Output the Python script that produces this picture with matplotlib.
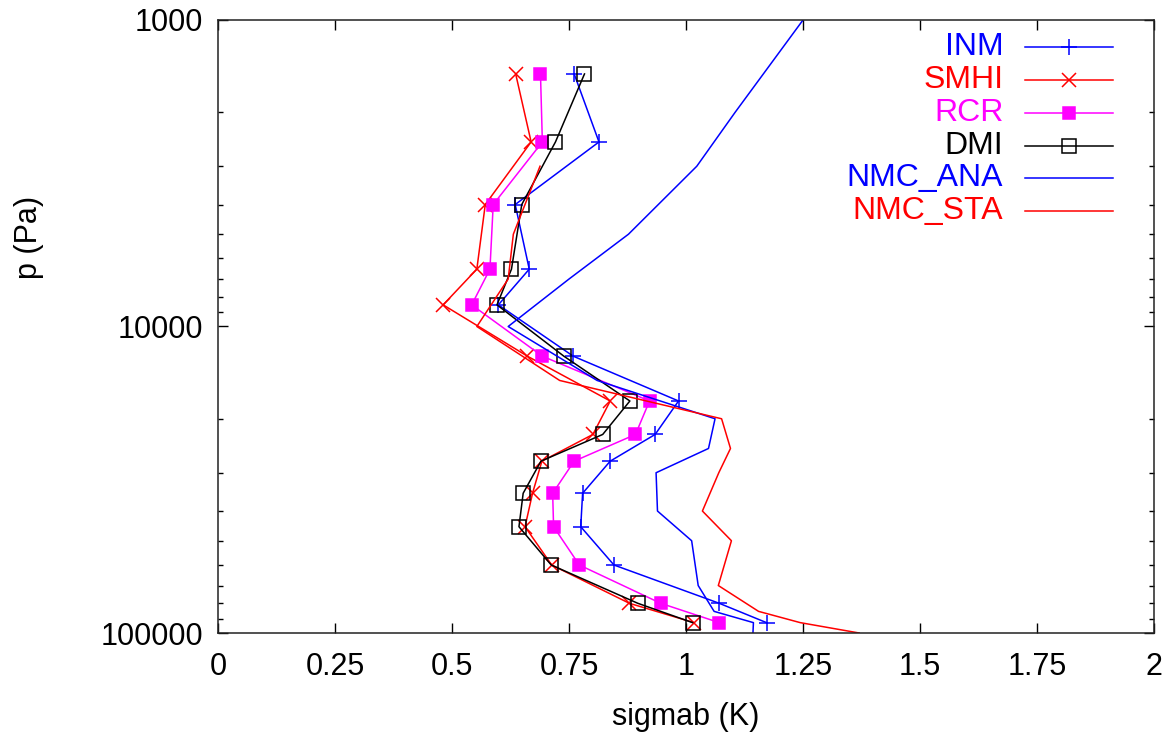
import numpy as np
import matplotlib
matplotlib.use("Agg")
import matplotlib.pyplot as plt
from matplotlib.ticker import LogLocator, FixedLocator, NullFormatter

plt.rcParams['font.family'] = ['Liberation Sans', 'DejaVu Sans']

# ----------------------------
# Datos
# ----------------------------
# niveles de los modelos [Pa]
p_mod = [1500, 2500, 4000, 6500, 8500, 12500, 17500, 22500, 27500,
         35000, 45000, 60000, 80000, 92500]
inm = [0.761, 0.814, 0.635, 0.665, 0.599, 0.759, 0.984, 0.934, 0.838,
       0.779, 0.775, 0.846, 1.071, 1.172]
smhi = [0.636, 0.669, 0.571, 0.553, 0.481, 0.661, 0.838, 0.801, 0.692,
        0.672, 0.656, 0.713, 0.879, 1.017]
rcr = [0.689, 0.693, 0.588, 0.581, 0.542, 0.693, 0.922, 0.892, 0.761,
       0.715, 0.717, 0.772, 0.946, 1.071]
dmi = [0.783, 0.721, 0.649, 0.627, 0.596, 0.739, 0.880, 0.822, 0.690,
       0.652, 0.643, 0.712, 0.897, 1.014]

# niveles NMC [Pa]
p_ana = [1000, 2000, 3000, 5000, 7000, 10000, 15000, 20000, 25000, 30000,
         40000, 50000, 70000, 85000, 92500, 100000]
nmc_ana = [1.25, 1.105, 1.023, 0.877, 0.75, 0.620, 0.81, 1.062, 1.048, 0.936,
           0.939, 1.012, 1.026, 1.060, 1.144, 1.143]
p_sta = [3000, 5000, 7000, 10000, 15000, 20000, 25000, 30000, 40000, 50000,
         70000, 85000, 92500, 100000]
nmc_sta = [0.688, 0.631, 0.62, 0.553, 0.73, 1.076, 1.095, 1.07, 1.035, 1.097,
           1.069, 1.155, 1.244, 1.370]

x_ticks = [0, 0.25, 0.5, 0.75, 1, 1.25, 1.5, 1.75, 2]
x_ticklabels = ["0", "0.25", "0.5", "0.75", "1", "1.25", "1.5", "1.75", "2"]
y_ticks = [1000, 10000, 100000]
y_ticklabels = ["1000", "10000", "100000"]

BLUE, RED, MAG, BLK = "#0000ff", "#ff0000", "#ff00ff", "#000000"

# (etiqueta, x, p, color, marcador, tamaño, relleno)
SERIES = [
    ("INM", inm, p_mod, BLUE, "+", 12, BLUE),
    ("SMHI", smhi, p_mod, RED, "x", 10, RED),
    ("RCR", rcr, p_mod, MAG, "s", 9, MAG),
    ("DMI", dmi, p_mod, BLK, "s", 10, "none"),
    ("NMC_ANA", nmc_ana, p_ana, BLUE, None, 0, BLUE),
    ("NMC_STA", nmc_sta, p_sta, RED, None, 0, RED),
]

fig = plt.figure(figsize=(11.71, 7.37), dpi=100)
ax = fig.add_axes([0.1862, 0.1411, 0.7993, 0.8318])

for label, xv, pv, col, mk, ms, mfc in SERIES:
    ax.plot(xv, pv, color=col, lw=1.1, marker=mk, markersize=ms,
            markerfacecolor=mfc, markeredgecolor=col, markeredgewidth=1.1)

ax.set_yscale("log")
ax.set_xlim(0, 2)
ax.set_ylim(100000, 1000)

ax.set_xticks(x_ticks)
ax.set_xticklabels(x_ticklabels)
ax.yaxis.set_major_locator(FixedLocator(y_ticks))
ax.set_yticklabels(y_ticklabels)
ax.yaxis.set_minor_locator(LogLocator(base=10, subs=np.arange(2, 10)))
ax.yaxis.set_minor_formatter(NullFormatter())

ax.tick_params(axis="both", which="major", direction="in", length=7,
               width=1.0, labelsize=22, top=True, right=True)
ax.tick_params(axis="x", which="major", pad=14)
ax.tick_params(axis="y", which="major", pad=11)
ax.tick_params(axis="y", which="minor", direction="in", length=3.6,
               width=1.0, left=True, right=True)
for s in ax.spines.values():
    s.set_linewidth(1.1)
    s.set_color("#222222")

ax.set_xlabel("sigmab (K)", fontsize=22, labelpad=14)
ax.set_ylabel("p (Pa)", fontsize=22)
ax.yaxis.set_label_coords(-0.186, 0.646)

# leyenda a mano: texto alineado a la derecha, muestra de línea a la derecha
ty = [0.9555, 0.9021, 0.8478, 0.7949, 0.7427, 0.6884]
for (label, xv, pv, col, mk, ms, mfc), yy in zip(SERIES, ty):
    ax.text(0.839, yy, label, transform=ax.transAxes, ha="right", va="center",
            fontsize=23, color=col)
    ax.plot([0.862, 0.956], [yy, yy], transform=ax.transAxes, color=col, lw=1.1)
    if mk is not None:
        ax.plot([0.909], [yy], transform=ax.transAxes, color=col, marker=mk,
                markersize=ms, markerfacecolor=mfc, markeredgecolor=col,
                markeredgewidth=1.1)

fig.savefig("out.png", dpi=100)
